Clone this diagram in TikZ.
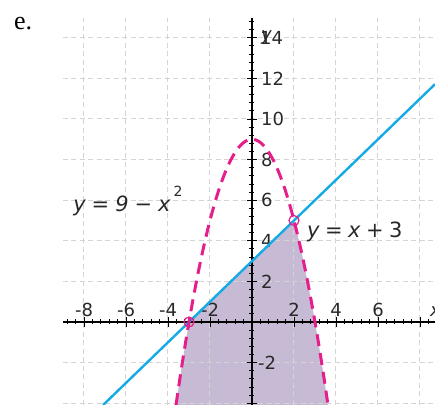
\documentclass[tikz,border=0pt]{standalone}
\usepackage{fontspec}
\setmainfont{DejaVu Sans}
\newfontfamily\serife{Liberation Serif}
\definecolor{mag}{RGB}{230,30,140}
\definecolor{sky}{RGB}{20,170,230}
\definecolor{shadec}{RGB}{198,186,212}
\definecolor{gridc}{RGB}{212,212,212}
\definecolor{txt}{RGB}{40,40,40}
\newcommand\gp{\hspace{6pt}}
\newcommand\gq{\hspace{5.5pt}}
\begin{document}
\begin{tikzpicture}[x=21pt,y=20.3pt,
  gridline/.style={gridc, line width=1pt, dash pattern=on 5pt off 3.5pt},
  axisline/.style={black, line width=1.2pt},
  tickline/.style={black, line width=0.9pt},
  lab/.style={font=\fontsize{18}{18}\selectfont, text=txt, inner sep=0pt},
  eqlab/.style={font=\fontsize{21}{21}\selectfont, text=txt, inner sep=0pt, anchor=base west},
  pt/.style={mag, line width=1.2pt}
]
\useasboundingbox (-12,-4.0887) rectangle (8.7143,15.8621);
% shaded region
\fill[shadec] plot[domain=-3.618:-3, samples=30] (\x,{9-\x*\x}) -- (2,5)
  -- plot[domain=2:3.618, samples=30] (\x,{9-\x*\x}) -- cycle;
% grid
\foreach \gx in {-8,-6,-4,-2,2,4,6,8}
  \draw[gridline] (\gx,-4.0887) -- (\gx,14.98);
\foreach \gy in {-4,-2,2,4,6,8,10,12,14}
  \draw[gridline] (-9,\gy) -- (8.7143,\gy);
% axes
\coordinate (xl) at (-9,0);
\coordinate (xr) at (8.7143,0);
\coordinate (yb) at (0,-4.0887);
\coordinate (yt) at (0,14.98);
\draw[axisline] (xl) -- (xr);
\draw[axisline] (yb) -- (yt);
\foreach \i in {-22,...,21}
  \draw[tickline] ({0.4*\i},0) ++(0,-2.5pt) -- ++(0,5pt);
\foreach \i in {-8,-6,-4,-2,2,4,6,8}
  \draw[tickline] (\i,0) ++(0,-5pt) -- ++(0,10pt);
\foreach \i in {-10,...,37}
  \draw[tickline] (0,{0.4*\i}) ++(-2.5pt,0) -- ++(5pt,0);
\foreach \i in {-4,-2,2,4,6,8,10,12,14}
  \draw[tickline] (0,\i) ++(-5pt,0) -- ++(10pt,0);
% tick labels
\foreach \v in {-8,-6,-4,-2,2,4,6}
  \node[lab, anchor=base] (xlab\v) at ([yshift=5.5pt]\v,0) {\v};
\foreach \v in {2,4,6,8,10,12}
  \node[lab, anchor=west] (ylab\v) at ([xshift=9pt]0,\v) {\v};
\node[lab, anchor=west] (ylab14) at ([xshift=8pt]0,14) {14};
\node[lab, anchor=west] (ylabm2) at ([xshift=6pt]0,-2) {-2};
\node[lab, anchor=west] (yname) at ([xshift=9pt]0,14) {\itshape y};
\node[lab, anchor=base west] (xname) at ([yshift=5.5pt]8.476,0) {\itshape x};
% line y = x + 3
\coordinate (la) at (-7.0887,-4.0887);
\coordinate (lb) at (8.7143,11.7143);
\draw[sky, line width=2.4pt] (la) -- (lb);
% parabola
\draw[mag, line width=3pt, dash pattern=on 12pt off 7pt]
  plot[domain=-3.618:3.618, samples=120, smooth] (\x,{9-\x*\x});
% intersection points
\coordinate (p1) at (-3,0);
\coordinate (p2) at (2,5);
\draw[pt] (p1) circle (5pt);
\draw[pt] (p2) circle (5pt);
% equation labels
\node[eqlab] (eqa) at (-8.52,5.42) {\itshape y\gp=\gp9\gp−\gp\itshape x\hspace{3pt}\raisebox{15pt}{\upshape\fontsize{14}{14}\selectfont 2}};
\node[eqlab] (eqb) at (2.62,4.14) {\itshape y\gq=\gq x\gq\upshape +\gq3};
% part label
\node[anchor=base west, inner sep=0pt, font=\serife\fontsize{26}{26}\selectfont] (part) at (-11.333,14.409) {e.};
\end{tikzpicture}
\end{document}
